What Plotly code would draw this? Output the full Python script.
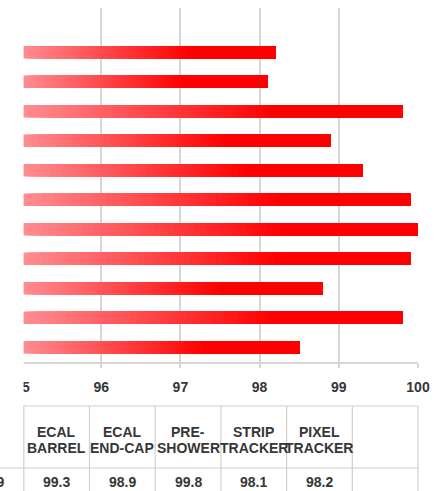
import plotly.graph_objects as go

# Subsystem categories, bottom bar first (same order as the data-table columns)
categories = [
    "RPC", "CSC", "DT", "HCAL\nFORWARD", "HCAL\nEND-CAP", "HCAL\nBARREL",
    "ECAL\nBARREL", "ECAL\nEND-CAP", "PRE-\nSHOWER", "STRIP\nTRACKER", "PIXEL\nTRACKER", "",
]
efficiency = [98.5, 99.8, 98.8, 99.9, 100.0, 99.9, 99.3, 98.9, 99.8, 98.1, 98.2, None]
axis_min, axis_max = 95, 100
x_ticks = [95, 96, 97, 98, 99, 100]

# ---- figure geometry (pixels) ----
W, H = 437, 491
ML, MR, MT, MB = 22, 19, 8, 129
PW, PH = W - ML - MR, H - MT - MB


def px_x(p):
    return (p - ML) / PW


def px_y(p):
    return (H - MB - p) / PH


TEXT = "#363636"
GRID = "#d6d6d6"
FONT = "Liberation Sans"

# gradient: light pink at the bar root -> pure red at ~65% of its length
START_RGB = (255, 140, 145)
END_RGB = (255, 0, 0)
RED_AT = 0.65
N_SEG = 60


def grad_color(f):
    t = min(f / RED_AT, 1.0)
    r, g, b = (round(a + (b_ - a) * t) for a, b_ in zip(START_RGB, END_RGB))
    return f"rgb({r},{g},{b})"


positions = list(range(len(categories)))
fig = go.Figure()

# each bar is layered from progressively redder slices that all end at the bar value
for k in range(N_SEG):
    f = k / N_SEG
    starts, widths = [], []
    for v in efficiency:
        if v is None:
            starts.append(None)
            widths.append(None)
        else:
            s = axis_min + (v - axis_min) * f
            starts.append(s)
            widths.append(v - s)
    fig.add_trace(go.Bar(
        y=positions, x=widths, base=starts, orientation="h",
        width=0.42, marker=dict(color=grad_color(f), line=dict(width=0)),
        showlegend=False, hoverinfo="skip",
    ))

shapes = []
annotations = []

# white margin along the left edge of the chart area
shapes.append(dict(type="rect", xref="paper", yref="paper",
                   x0=px_x(-5), x1=px_x(23.6), y0=px_y(467), y1=px_y(-5),
                   fillcolor="white", line=dict(width=0), layer="above"))

# ---- data table under the axis ----
COL_W = 65.7
T_RIGHT = ML + PW
TOP, SEP, BOT = 406, 468, 500
n = len(categories)
col_edges = [T_RIGHT - (n - i) * COL_W for i in range(n + 1)]
line_style = dict(color="#cfcfcf", width=1.2)

visible_left = col_edges[n - 6]
shapes.append(dict(type="line", xref="paper", yref="paper",
                   x0=px_x(visible_left), x1=px_x(T_RIGHT), y0=px_y(TOP), y1=px_y(TOP),
                   line=line_style, layer="above"))
shapes.append(dict(type="line", xref="paper", yref="paper",
                   x0=px_x(0), x1=px_x(T_RIGHT), y0=px_y(SEP), y1=px_y(SEP),
                   line=line_style, layer="above"))
for e in col_edges:
    if e < 0:
        continue
    shapes.append(dict(type="line", xref="paper", yref="paper",
                       x0=px_x(e), x1=px_x(e), y0=px_y(TOP), y1=px_y(BOT),
                       line=line_style, layer="above"))

cell_font = dict(family=FONT, size=14, color=TEXT, weight="bold")
for i, (name, v) in enumerate(zip(categories, efficiency)):
    left, right = col_edges[i], col_edges[i + 1]
    if right <= 0:
        continue  # column lies wholly outside the page
    cx = (left + right) / 2
    if left >= 0:
        for j, line in enumerate(name.split("\n")):
            annotations.append(dict(
                xref="paper", yref="paper", x=px_x(cx), y=px_y(432 + 16 * j),
                text=line, showarrow=False, font=cell_font,
                xanchor="center", yanchor="middle"))
    if v is not None:
        annotations.append(dict(
            xref="paper", yref="paper", x=px_x(cx), y=px_y(482),
            text=f"{v:.1f}", showarrow=False, font=cell_font,
            xanchor="center", yanchor="middle"))

fig.update_layout(
    width=W, height=H,
    margin=dict(l=ML, r=MR, t=MT, b=MB, pad=0),
    paper_bgcolor="white", plot_bgcolor="white",
    barmode="overlay",
    shapes=shapes, annotations=annotations,
    xaxis=dict(
        range=[axis_min, axis_max], tickvals=x_ticks,
        ticktext=[str(t) for t in x_ticks],
        showgrid=True, gridcolor=GRID, gridwidth=1.5,
        showline=True, linecolor=GRID, linewidth=1.5,
        ticks="outside", ticklen=4, tickcolor=GRID, tickwidth=1.5,
        tickfont=dict(family=FONT, size=14, color=TEXT, weight="bold"),
        ticklabelstandoff=7, zeroline=False, fixedrange=True,
    ),
    yaxis=dict(
        range=[-0.5, n - 0.5], showticklabels=False, showgrid=False,
        zeroline=False, showline=False, ticks="", fixedrange=True,
    ),
)

fig.write_html("out.html")
